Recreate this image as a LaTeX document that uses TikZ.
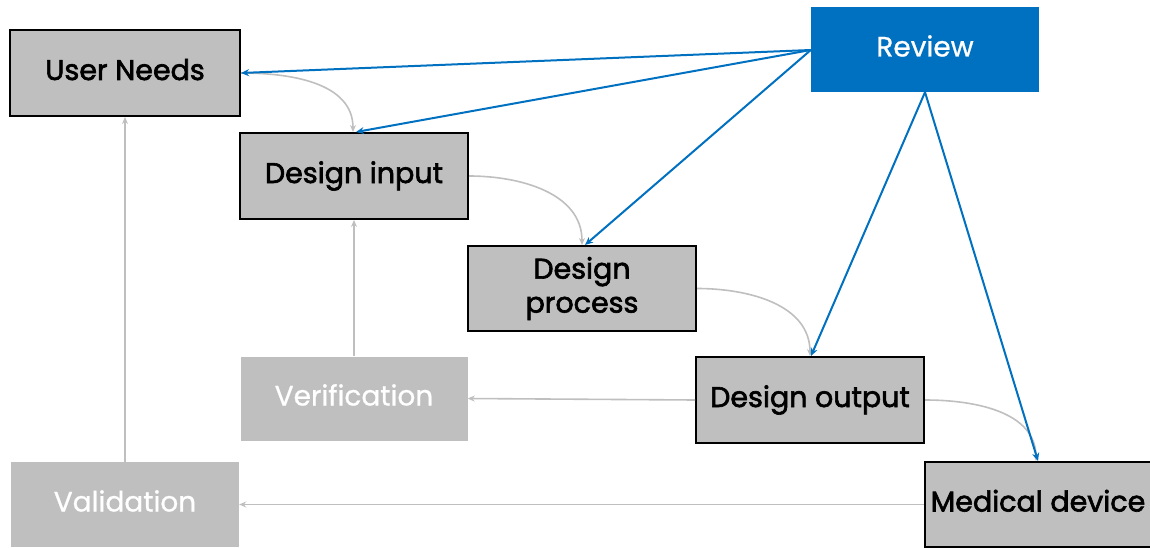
\documentclass[tikz,border=0pt]{standalone}
\usepackage{fontspec}
\setmainfont{Poppins}
\newfontfamily\medfont{Poppins}[UprightFeatures={FakeBold=2.2}]
\newfontfamily\lightmed{Poppins}[UprightFeatures={FakeBold=0.8}]
\usetikzlibrary{arrows.meta,calc}
\definecolor{boxgray}{HTML}{BFBFBF}
\definecolor{revblue}{HTML}{0070C0}
\tikzset{
  oneline/.style={text height=20pt,text depth=6pt},
  mainbox/.style={draw=black,line width=2pt,fill=boxgray,minimum width=228pt,minimum height=85pt,inner sep=0pt,text=black,font=\medfont\fontsize{28.5}{34}\selectfont,align=center},
  palebox/.style={fill=boxgray,minimum width=227pt,minimum height=84pt,inner sep=0pt,text=white,font=\lightmed\fontsize{28}{34}\selectfont,oneline},
  reviewbox/.style={fill=revblue,minimum width=228pt,minimum height=85pt,inner sep=0pt,text=white,font=\lightmed\fontsize{28}{34}\selectfont,oneline},
  bluearrow/.style={draw=revblue,line width=2pt,-{Stealth[length=8pt,width=7pt]}},
  grayarrow/.style={draw=boxgray,line width=1.6pt,-{Stealth[length=7pt,width=6pt]}}
}
\begin{document}
\begin{tikzpicture}[x=1pt,y=1pt]
\useasboundingbox (0,0) rectangle (1150,-548);
\node[mainbox,oneline,minimum width=230pt,minimum height=86pt] (un) at (125,-73) {User Needs};
\node[mainbox,oneline,minimum height=86pt] (di) at (354,-176) {Design input};
\node[mainbox] (dp) at (582,-288.5) {Design\\process};
\node[mainbox,oneline,minimum height=86pt] (do) at (810,-400) {Design output};
\node[mainbox,oneline,minimum width=226pt] (md) at (1038,-504.5) {Medical device};
\node[reviewbox] (rv) at (925,-49.5) {Review};
\node[palebox] (ver) at (354,-398.5) {Verification};
\node[palebox,minimum width=228pt,minimum height=85pt] (val) at (125,-504.5) {Validation};
% gray flow
\draw[grayarrow] (un.east) to[out=0,in=90] ([xshift=-1pt]di.north);
\draw[grayarrow] (di.east) to[out=0,in=90] (dp.north);
\draw[grayarrow] (dp.east) to[out=0,in=90] (do.north);
\draw[grayarrow] (do.east) to[out=0,in=90] ([xshift=-2pt]md.north);
\draw[grayarrow] (do.west) -- (ver.east);
\draw[grayarrow] (ver.north) -- (di.south);
\draw[grayarrow] (md.west) -- (val.east);
\draw[grayarrow] (val.north) -- (un.south);
% review
\coordinate (rl) at ($(rv.west)+(0,-0.5)$);
\draw[bluearrow] (rl) -- (un.east);
\draw[bluearrow] (rl) -- ([xshift=2pt]di.north);
\draw[bluearrow] (rl) -- ([xshift=3pt]dp.north);
\draw[bluearrow] (rv.south) -- ([xshift=1pt]do.north);
\draw[bluearrow] (rv.south) -- (md.north);
\end{tikzpicture}
\end{document}
